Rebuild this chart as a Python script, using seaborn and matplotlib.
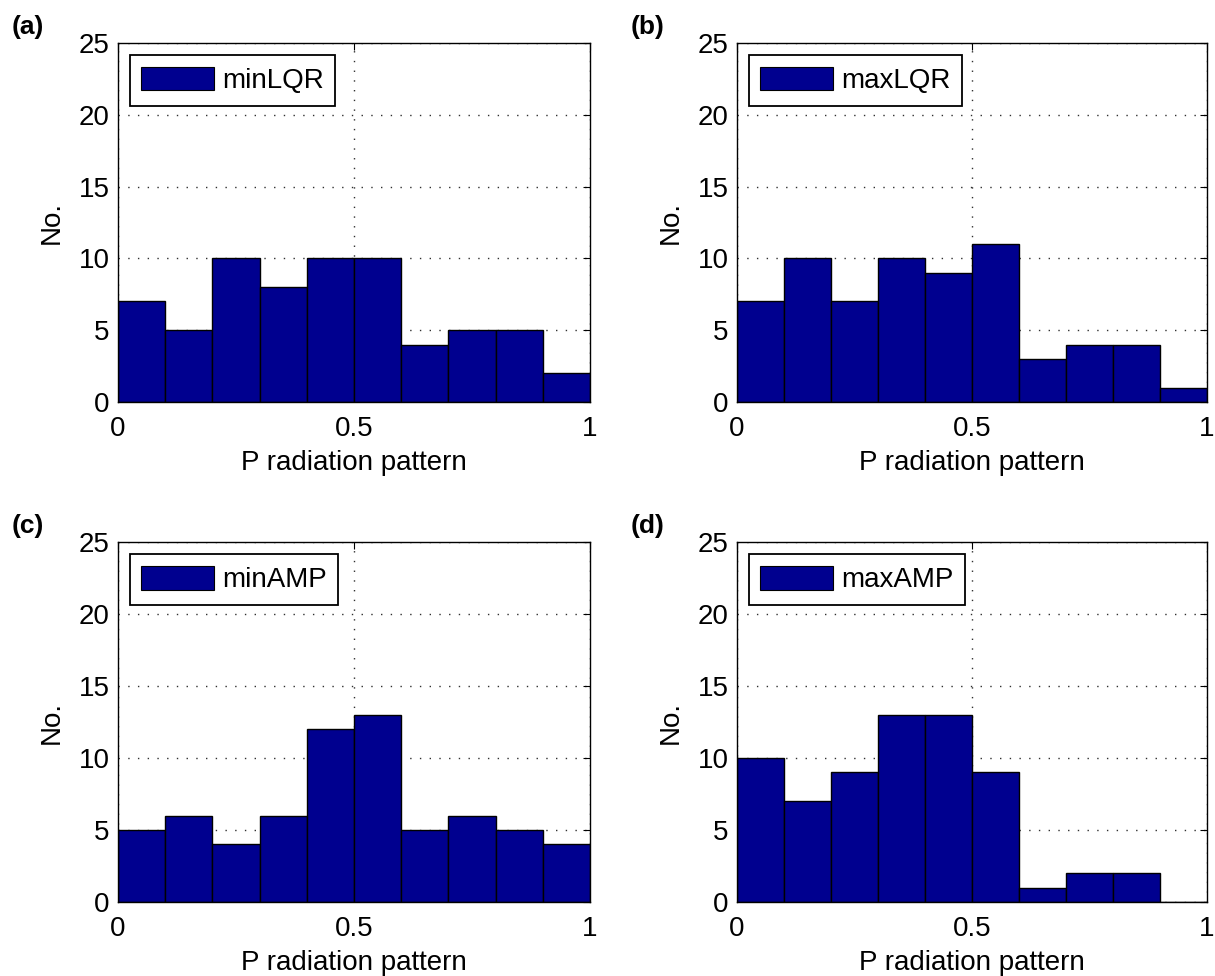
import numpy as np
import matplotlib
matplotlib.use("Agg")
import matplotlib.pyplot as plt
import seaborn as sns
from matplotlib.patches import Patch

sns.set_style("white")
plt.rcParams['font.family'] = ['Liberation Sans', 'DejaVu Sans']
plt.rcParams['text.color'] = 'black'
plt.rcParams['axes.labelcolor'] = 'black'
plt.rcParams['xtick.color'] = 'black'
plt.rcParams['ytick.color'] = 'black'

# Data
bin_edges = [0.0, 0.1, 0.2, 0.3, 0.4, 0.5, 0.6, 0.7, 0.8, 0.9, 1.0]
bin_centers = [0.05, 0.15, 0.25, 0.35, 0.45, 0.55, 0.65, 0.75, 0.85, 0.95]
min_lqr = [7, 5, 10, 8, 10, 10, 4, 5, 5, 2]
max_lqr = [7, 10, 7, 10, 9, 11, 3, 4, 4, 1]
min_amp = [5, 6, 4, 6, 12, 13, 5, 6, 5, 4]
max_amp = [10, 7, 9, 13, 13, 9, 1, 2, 2, 0]
series_names = ["minLQR", "maxLQR", "minAMP", "maxAMP"]
panel_letters = ["(a)", "(b)", "(c)", "(d)"]
x_ticks = [0, 0.5, 1]
x_tick_labels = ["0", "0.5", "1"]
y_ticks = [0, 5, 10, 15, 20, 25]
x_label = "P radiation pattern"
y_label = "No."

bar_color = "#00008F"
FS = 20

W, H = 1215, 976
fig = plt.figure(figsize=(W / 100, H / 100), dpi=100)

# axes boxes in pixels: (left, top, right, bottom)
boxes = [(118, 43, 590, 402), (737, 43, 1207, 402),
         (118, 542, 590, 902), (737, 542, 1207, 902)]
letter_pos = [(12, 27), (631, 27), (12, 526), (631, 526)]
all_counts = [min_lqr, max_lqr, min_amp, max_amp]

for i, (counts, name, letter) in enumerate(zip(all_counts, series_names, panel_letters)):
    l, t, r, b = boxes[i]
    ax = fig.add_axes([l / W, 1 - b / H, (r - l) / W, (b - t) / H])
    sns.histplot(x=bin_centers, weights=counts, bins=bin_edges, ax=ax,
                 color=bar_color, alpha=1.0, edgecolor="black", linewidth=1.0,
                 stat="count")
    ax.set_xlim(0, 1)
    ax.set_ylim(0, 25)
    ax.set_xticks(x_ticks)
    ax.set_xticklabels(x_tick_labels)
    ax.set_yticks(y_ticks)
    ax.tick_params(axis="both", labelsize=FS, direction="in", length=5,
                   top=True, right=True, width=0.8)
    ax.tick_params(axis="x", pad=10)
    ax.tick_params(axis="y", pad=6)
    ax.set_axisbelow(True)
    ax.grid(True, linestyle=(0, (1, 6)), color="#303030", linewidth=1.0)
    for sp in ax.spines.values():
        sp.set_visible(True)
        sp.set_color("black")
        sp.set_linewidth(1.0)
    ax.set_xlabel(x_label, fontsize=FS, labelpad=6)
    ax.set_ylabel(y_label, fontsize=FS, labelpad=10)
    leg = ax.legend(handles=[Patch(facecolor=bar_color, edgecolor="black", linewidth=0.8)],
                    labels=[name], loc="upper left",
                    bbox_to_anchor=(0.025, 0.967), borderaxespad=0,
                    fontsize=FS, fancybox=False, framealpha=1,
                    handlelength=2.6, handleheight=0.95, handletextpad=0.3,
                    borderpad=0.42)
    leg.get_frame().set_edgecolor("black")
    leg.get_frame().set_linewidth(1.3)
    lx, ly = letter_pos[i]
    fig.text(lx / W, 1 - ly / H, letter, fontsize=19, fontweight="bold",
             ha="left", va="center")

fig.savefig("out.png", dpi=100)
